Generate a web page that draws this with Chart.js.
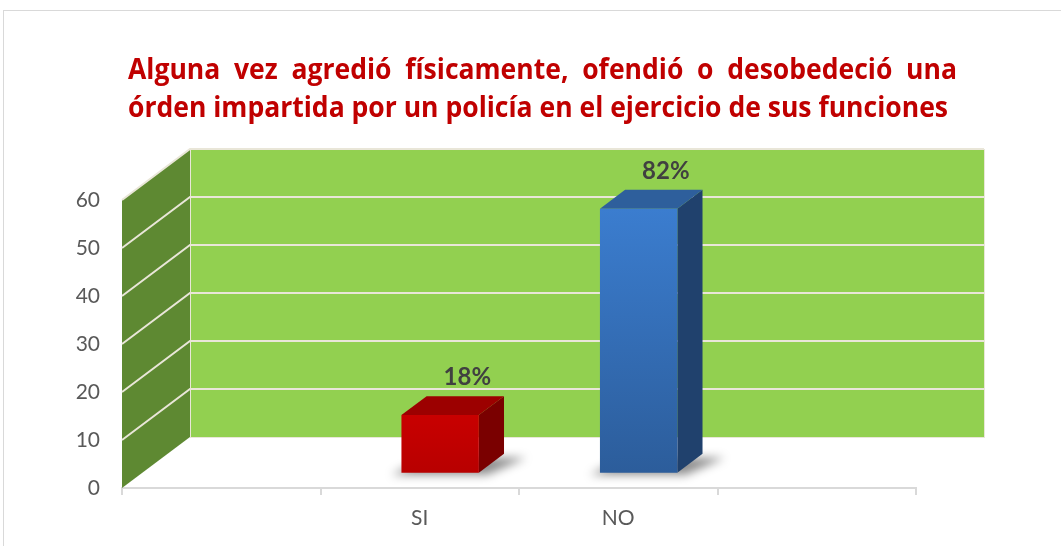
<!DOCTYPE html>
<html>
<head>
<meta charset="utf-8">
<script src="https://cdn.jsdelivr.net/npm/chart.js@4.4.1/dist/chart.umd.min.js"></script>
<style>
  html, body { margin: 0; padding: 0; background: #ffffff; }
  canvas { display: block; }
</style>
</head>
<body>
<canvas id="chart" width="1061" height="546"></canvas>
<script>
// data
const titleLines = [
  'Alguna vez agredió físicamente, ofendió o desobedeció una',
  'órden impartida por un policía en el ejercicio de sus funciones'
];
const categories = ['', 'SI', 'NO', ''];
const responses = [null, 12, 55, null];
const percentLabels = ['', '18%', '82%', ''];

// 3d look
const DEPTH_X = 68, DEPTH_Y = -51;   // offset of the back wall
const BAR_FRONT = 0.3, BAR_BACK = 0.67;
const barFaces = [
  null,
  { front: ['#c80000', '#b80000'], top: '#9c0000', side: '#7a0000' },
  { front: ['#3b7dcf', '#2c5d9b'], top: '#2e5f9c', side: '#20416d' },
  null
];

function poly(ctx, pts, fill) {
  ctx.beginPath();
  ctx.moveTo(pts[0][0], pts[0][1]);
  for (let i = 1; i < pts.length; i++) ctx.lineTo(pts[i][0], pts[i][1]);
  ctx.closePath();
  ctx.fillStyle = fill;
  ctx.fill();
}

const frame = {
  id: 'frame',
  beforeDraw(chart) {
    const ctx = chart.ctx;
    ctx.save();
    ctx.strokeStyle = '#d9d9d9';
    ctx.lineWidth = 1;
    ctx.strokeRect(3.5, 10.5, 1200, 1000);

    // title, first line justified
    ctx.fillStyle = '#c00000';
    ctx.font = 'bold 28px "Open Sans"';
    ctx.textBaseline = 'alphabetic';
    const left = 128;
    const sx = 820 / ctx.measureText(titleLines[1]).width;
    const words = titleLines[0].split(' ');
    const widths = words.map(w => ctx.measureText(w).width);
    const total = 829 / sx;
    const gap = (total - widths.reduce((a, b) => a + b, 0)) / (words.length - 1);
    ctx.save();
    ctx.translate(left, 79);
    ctx.scale(sx, 1);
    let x = 0;
    words.forEach((w, i) => { ctx.fillText(w, x, 0); x += widths[i] + gap; });
    ctx.restore();
    ctx.save();
    ctx.translate(left, 117);
    ctx.scale(sx, 1);
    ctx.fillText(titleLines[1], 0, 0);
    ctx.restore();
    ctx.restore();
  }
};

const walls = {
  id: 'walls',
  beforeDatasetsDraw(chart) {
    const { ctx, chartArea: a, scales: { y } } = chart;
    ctx.save();
    // side wall
    poly(ctx, [[a.left, a.bottom], [a.left, a.top], [a.left + DEPTH_X, a.top + DEPTH_Y], [a.left + DEPTH_X, a.bottom + DEPTH_Y]], '#5e8932');
    // back wall
    poly(ctx, [[a.left + DEPTH_X, a.top + DEPTH_Y], [a.right + DEPTH_X, a.top + DEPTH_Y], [a.right + DEPTH_X, a.bottom + DEPTH_Y], [a.left + DEPTH_X, a.bottom + DEPTH_Y]], '#92d050');
    ctx.strokeStyle = '#e9e6d8';
    ctx.lineWidth = 1;
    ctx.strokeRect(a.left + DEPTH_X + 0.5, a.top + DEPTH_Y + 0.5, a.right - a.left, a.bottom - a.top);
    // grid lines on both walls
    ctx.lineWidth = 2;
    y.ticks.forEach(t => {
      if (t.value === 0) return;
      const py = y.getPixelForValue(t.value);
      ctx.beginPath();
      ctx.moveTo(a.left, py);
      ctx.lineTo(a.left + DEPTH_X, py + DEPTH_Y);
      ctx.lineTo(a.right + DEPTH_X, py + DEPTH_Y);
      ctx.stroke();
    });
    ctx.restore();
  }
};

const bars3d = {
  id: 'bars3d',
  afterDatasetsDraw(chart) {
    const ctx = chart.ctx;
    const meta = chart.getDatasetMeta(0);
    meta.data.forEach((el, i) => {
      const faces = barFaces[i];
      if (responses[i] == null || !faces) return;
      const half = el.width / 2;
      const l = el.x - half + DEPTH_X * BAR_FRONT;
      const r = el.x + half + DEPTH_X * BAR_FRONT;
      const t = el.y + DEPTH_Y * BAR_FRONT;
      const b = el.base + DEPTH_Y * BAR_FRONT;
      const ex = DEPTH_X * (BAR_BACK - BAR_FRONT);
      const ey = DEPTH_Y * (BAR_BACK - BAR_FRONT);
      ctx.save();
      // soft shadow on the floor
      ctx.filter = 'blur(5px)';
      poly(ctx, [[l - 10, b + 2], [r + 8, b + 2], [r + ex + 22, b + ey + 4], [l + ex, b + ey + 4]], 'rgba(0,0,0,0.45)');
      ctx.filter = 'none';
      // side
      poly(ctx, [[r, t], [r + ex, t + ey], [r + ex, b + ey], [r, b]], faces.side);
      // top
      poly(ctx, [[l, t], [l + ex, t + ey], [r + ex, t + ey], [r, t]], faces.top);
      // front
      const fg = ctx.createLinearGradient(0, t, 0, b);
      fg.addColorStop(0, faces.front[0]);
      fg.addColorStop(1, faces.front[1]);
      poly(ctx, [[l, t], [r, t], [r, b], [l, b]], fg);
      // value label
      ctx.fillStyle = '#404040';
      ctx.font = 'bold 24px Lato';
      ctx.textAlign = 'center';
      ctx.textBaseline = 'alphabetic';
      ctx.fillText(percentLabels[i], el.x + DEPTH_X * BAR_BACK + 2, el.y + DEPTH_Y * BAR_BACK - 11);
      ctx.restore();
    });
  }
};

new Chart(document.getElementById('chart'), {
  type: 'bar',
  data: {
    labels: categories,
    datasets: [{
      data: responses,
      backgroundColor: 'rgba(0,0,0,0)',
      borderWidth: 0,
      barPercentage: 0.39,
      categoryPercentage: 1
    }]
  },
  options: {
    responsive: false,
    animation: false,
    devicePixelRatio: 1,
    layout: { padding: { top: 200, right: 145, bottom: 0, left: 0 } },
    plugins: {
      legend: { display: false },
      title: { display: false },
      tooltip: { enabled: false }
    },
    scales: {
      x: {
        offset: true,
        grid: { display: true, drawOnChartArea: false, drawTicks: true, tickLength: 7, offset: true, color: '#d9d9d9', lineWidth: 2 },
        border: { display: true, color: '#d9d9d9', width: 2 },
        ticks: { color: '#595959', font: { family: 'Lato', size: 21 }, padding: 11 },
        afterFit(s) { s.height = 58; }
      },
      y: {
        min: 0,
        max: 60,
        ticks: { stepSize: 10, color: '#595959', font: { family: 'Lato', size: 21 }, padding: 22 },
        grid: { display: false, drawTicks: false },
        border: { display: false },
        afterFit(s) { s.width = 122; }
      }
    }
  },
  plugins: [frame, walls, bars3d]
});
</script>
</body>
</html>
